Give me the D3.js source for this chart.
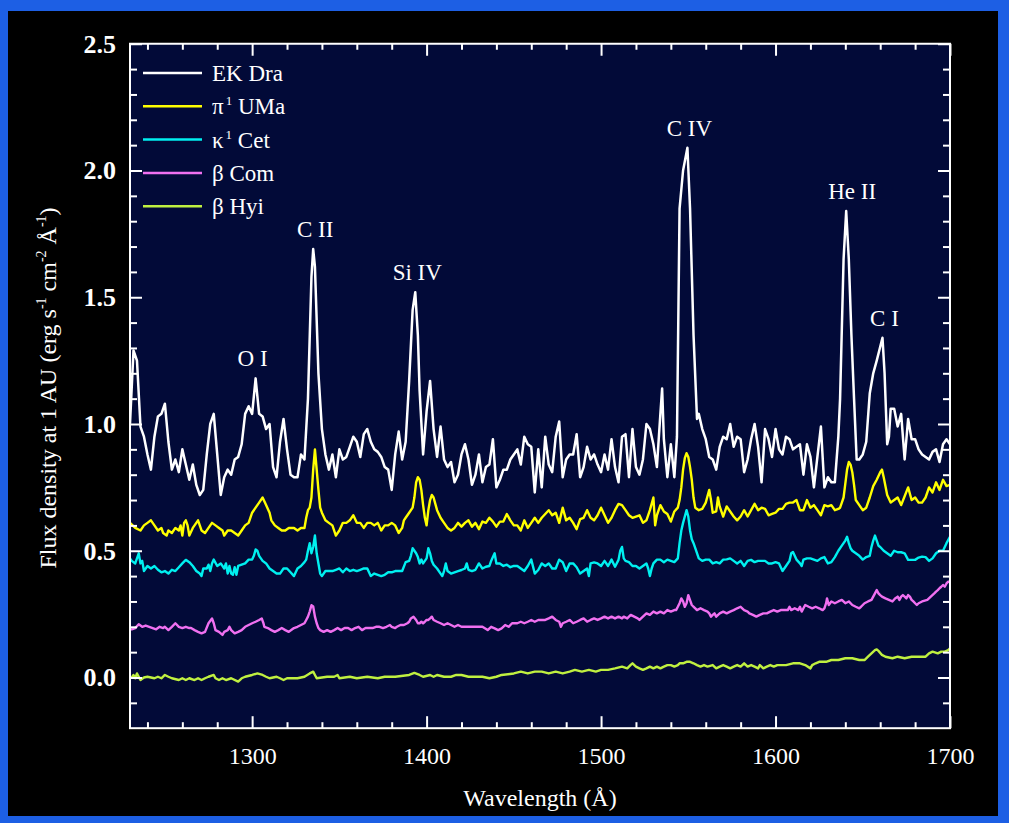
<!DOCTYPE html>
<html><head><meta charset="utf-8">
<script src="https://cdn.jsdelivr.net/npm/d3@7"></script>
<style>html,body{margin:0;padding:0;background:#000;overflow:hidden}</style>
</head><body>
<svg id="chart" width="1009" height="823"></svg>
<script>
// ---- data: [wavelength (Å), flux] ----
const ekDra = [[1230,1.00],[1232,1.29],[1234,1.25],[1236,0.99],[1238,0.95],[1240,0.88],[1242,0.82],[1244,0.95],[1246,1.03],[1248,1.04],[1250,1.08],[1252,0.93],[1254,0.82],[1256,0.86],[1258,0.81],[1260,0.90],[1262,0.84],[1264,0.78],[1266,0.84],[1268,0.76],[1270,0.72],[1272,0.74],[1274,0.88],[1276,1.00],[1278,1.04],[1280,0.88],[1282,0.72],[1284,0.79],[1286,0.82],[1288,0.80],[1290,0.86],[1292,0.87],[1294,0.92],[1296,1.04],[1298,1.07],[1300,1.04],[1302,1.18],[1304,1.04],[1306,1.03],[1308,0.98],[1310,1.00],[1312,0.83],[1314,0.79],[1316,0.93],[1318,1.02],[1320,0.90],[1322,0.80],[1324,0.79],[1326,0.79],[1328,0.88],[1330,0.86],[1332,1.10],[1334,1.58],[1335,1.69],[1336,1.62],[1338,1.20],[1340,0.98],[1342,0.88],[1344,0.82],[1346,0.88],[1348,0.79],[1350,0.90],[1352,0.86],[1354,0.87],[1356,0.91],[1358,0.95],[1360,0.93],[1362,0.87],[1364,0.96],[1366,0.98],[1368,0.93],[1370,0.90],[1372,0.89],[1374,0.87],[1376,0.83],[1378,0.82],[1380,0.74],[1382,0.88],[1384,0.97],[1386,0.86],[1388,0.93],[1390,1.17],[1392,1.45],[1393.5,1.52],[1395,1.35],[1396,1.13],[1398,0.88],[1400,1.05],[1402,1.17],[1404,0.98],[1406,0.87],[1408,0.99],[1410,0.86],[1412,0.83],[1414,0.85],[1416,0.77],[1418,0.80],[1420,0.88],[1422,0.92],[1424,0.86],[1426,0.76],[1428,0.80],[1430,0.88],[1432,0.77],[1434,0.83],[1436,0.84],[1438,0.94],[1440,0.75],[1442,0.78],[1444,0.82],[1446,0.82],[1448,0.86],[1450,0.88],[1452,0.90],[1454,0.84],[1456,0.95],[1458,0.92],[1460,0.91],[1462,0.73],[1464,0.90],[1466,0.75],[1468,0.95],[1470,0.84],[1472,0.81],[1474,0.95],[1476,1.01],[1478,0.79],[1480,0.86],[1482,0.88],[1484,0.88],[1486,0.96],[1488,0.79],[1490,0.83],[1492,0.91],[1494,0.86],[1496,0.88],[1498,0.84],[1500,0.81],[1502,0.88],[1504,0.82],[1506,0.94],[1508,0.83],[1510,0.77],[1512,0.95],[1514,0.96],[1516,0.79],[1518,0.98],[1520,0.83],[1522,0.80],[1524,0.86],[1526,1.00],[1528,0.98],[1530,0.92],[1532,0.83],[1534,1.04],[1535,1.14],[1536,0.94],[1538,0.79],[1540,0.92],[1542,0.79],[1543.5,0.95],[1545,1.85],[1547,2.00],[1549.5,2.09],[1551,1.85],[1553,1.35],[1555,1.02],[1556,1.04],[1558,0.98],[1560,0.94],[1562,0.87],[1564,0.86],[1566,0.82],[1568,0.91],[1570,0.95],[1572,0.94],[1574,1.00],[1576,0.91],[1578,0.95],[1580,0.94],[1582,0.81],[1584,0.86],[1586,0.94],[1588,1.00],[1590,0.91],[1592,0.77],[1594,0.98],[1596,0.94],[1598,0.87],[1600,0.98],[1602,0.90],[1604,0.88],[1606,0.95],[1608,0.94],[1610,0.90],[1612,0.91],[1614,0.92],[1616,0.80],[1618,0.92],[1620,0.87],[1622,0.75],[1624,0.87],[1626,0.99],[1628,0.75],[1630,0.79],[1632,0.77],[1634,0.77],[1636,0.95],[1637,1.10],[1639,1.65],[1640.5,1.84],[1642,1.65],[1643.5,1.35],[1645,1.10],[1646.5,0.86],[1648,0.86],[1650,0.88],[1652,0.93],[1654,1.12],[1656,1.20],[1658,1.25],[1661.3,1.34],[1662.5,1.20],[1664,0.92],[1665,0.95],[1666,1.06],[1668,1.06],[1670,0.99],[1672,1.04],[1674,0.86],[1676,1.02],[1678,0.94],[1680,0.94],[1682,0.90],[1684,0.88],[1686,0.87],[1688,0.86],[1690,0.89],[1692,0.90],[1694,0.85],[1696,0.92],[1698,0.94],[1700,0.92]];

const piUMa = [[1230,0.61],[1233,0.59],[1236,0.58],[1238,0.60],[1240,0.61],[1242,0.62],[1244,0.60],[1246,0.58],[1248,0.59],[1249,0.57],[1251,0.56],[1252,0.58],[1254,0.57],[1256,0.59],[1258,0.58],[1259,0.60],[1260,0.56],[1261,0.61],[1262,0.62],[1263,0.60],[1264,0.56],[1266,0.59],[1268,0.61],[1269,0.62],[1270,0.60],[1271,0.58],[1273,0.57],[1275,0.59],[1277,0.61],[1279,0.60],[1281,0.59],[1283,0.58],[1284,0.56],[1286,0.58],[1288,0.58],[1290,0.57],[1292,0.56],[1294,0.58],[1296,0.60],[1298,0.61],[1300,0.65],[1302,0.67],[1304,0.69],[1306,0.71],[1308,0.68],[1310,0.65],[1311,0.62],[1313,0.60],[1315,0.59],[1317,0.58],[1319,0.58],[1321,0.59],[1324,0.59],[1326,0.58],[1328,0.59],[1330,0.59],[1331,0.63],[1332,0.66],[1333,0.67],[1334,0.71],[1335,0.82],[1336,0.90],[1337,0.82],[1338,0.74],[1339,0.67],[1340,0.65],[1342,0.62],[1344,0.61],[1346,0.60],[1348,0.56],[1350,0.58],[1352,0.61],[1354,0.61],[1356,0.62],[1358,0.64],[1360,0.61],[1362,0.61],[1364,0.59],[1366,0.61],[1368,0.61],[1370,0.60],[1372,0.61],[1374,0.58],[1376,0.60],[1378,0.60],[1380,0.61],[1382,0.60],[1384,0.57],[1386,0.59],[1387,0.62],[1388,0.63],[1390,0.65],[1392,0.67],[1393,0.71],[1394,0.77],[1395,0.79],[1396,0.78],[1397,0.74],[1398,0.68],[1399,0.63],[1400,0.60],[1401,0.66],[1402,0.70],[1403,0.72],[1404,0.71],[1406,0.66],[1408,0.63],[1410,0.61],[1412,0.59],[1414,0.58],[1416,0.59],[1418,0.61],[1420,0.595],[1422,0.61],[1424,0.62],[1426,0.595],[1428,0.61],[1430,0.585],[1432,0.615],[1434,0.61],[1436,0.63],[1438,0.615],[1440,0.595],[1442,0.615],[1444,0.615],[1446,0.645],[1448,0.62],[1450,0.60],[1452,0.60],[1454,0.58],[1456,0.62],[1458,0.59],[1460,0.61],[1462,0.63],[1464,0.61],[1466,0.63],[1468,0.645],[1470,0.66],[1472,0.64],[1474,0.65],[1476,0.61],[1478,0.67],[1480,0.62],[1482,0.63],[1484,0.61],[1486,0.585],[1488,0.625],[1490,0.63],[1492,0.66],[1494,0.63],[1496,0.62],[1498,0.64],[1500,0.67],[1502,0.64],[1504,0.61],[1506,0.63],[1508,0.66],[1510,0.685],[1512,0.68],[1514,0.66],[1516,0.64],[1518,0.63],[1520,0.635],[1522,0.64],[1524,0.61],[1526,0.62],[1528,0.66],[1530,0.71],[1531,0.60],[1532,0.64],[1534,0.68],[1536,0.655],[1538,0.645],[1540,0.615],[1542,0.655],[1544,0.67],[1545,0.70],[1546,0.75],[1547,0.82],[1548,0.865],[1549,0.885],[1550,0.87],[1551,0.83],[1552,0.78],[1553,0.71],[1554,0.67],[1556,0.66],[1558,0.665],[1560,0.69],[1562,0.74],[1563,0.70],[1564,0.65],[1566,0.655],[1567,0.71],[1568,0.675],[1570,0.635],[1572,0.675],[1574,0.655],[1576,0.635],[1578,0.62],[1580,0.635],[1582,0.66],[1584,0.635],[1586,0.66],[1588,0.685],[1590,0.66],[1592,0.67],[1594,0.665],[1596,0.64],[1598,0.645],[1600,0.65],[1602,0.665],[1604,0.665],[1606,0.685],[1608,0.69],[1610,0.69],[1612,0.70],[1614,0.66],[1616,0.66],[1618,0.70],[1620,0.67],[1622,0.68],[1624,0.66],[1626,0.64],[1628,0.68],[1630,0.675],[1632,0.68],[1634,0.66],[1636,0.665],[1637,0.67],[1638,0.69],[1639,0.71],[1640,0.765],[1641,0.82],[1642,0.85],[1643,0.84],[1644,0.81],[1645,0.76],[1646,0.70],[1648,0.68],[1650,0.66],[1652,0.67],[1654,0.71],[1656,0.755],[1658,0.78],[1660,0.81],[1661,0.82],[1662,0.79],[1664,0.72],[1666,0.69],[1668,0.70],[1670,0.71],[1672,0.68],[1674,0.715],[1676,0.75],[1678,0.70],[1680,0.71],[1682,0.69],[1684,0.69],[1686,0.71],[1688,0.75],[1690,0.73],[1692,0.77],[1694,0.74],[1696,0.78],[1698,0.755],[1700,0.76]];

const kappaCet = [[1230,0.47],[1231,0.46],[1233,0.45],[1235,0.49],[1236,0.45],[1237,0.46],[1238,0.42],[1240,0.44],[1242,0.43],[1244,0.44],[1246,0.425],[1248,0.415],[1250,0.42],[1252,0.41],[1254,0.425],[1256,0.42],[1258,0.435],[1260,0.45],[1262,0.464],[1264,0.455],[1266,0.44],[1268,0.42],[1270,0.41],[1271,0.40],[1272,0.43],[1274,0.43],[1275,0.445],[1276,0.42],[1277,0.45],[1278,0.465],[1280,0.44],[1282,0.45],[1284,0.43],[1285,0.45],[1286,0.41],[1287,0.44],[1288,0.41],[1289,0.405],[1290,0.435],[1291,0.405],[1292,0.44],[1294,0.445],[1296,0.45],[1298,0.465],[1300,0.465],[1301,0.48],[1302,0.505],[1303,0.50],[1304,0.48],[1306,0.46],[1308,0.45],[1310,0.43],[1312,0.42],[1314,0.41],[1316,0.41],[1318,0.43],[1320,0.43],[1322,0.415],[1324,0.40],[1326,0.43],[1328,0.44],[1330,0.455],[1331,0.465],[1332,0.50],[1333,0.53],[1334,0.49],[1335,0.515],[1336,0.56],[1337,0.49],[1338,0.45],[1339,0.41],[1340,0.40],[1342,0.42],[1344,0.42],[1346,0.42],[1348,0.425],[1350,0.43],[1352,0.415],[1354,0.43],[1356,0.42],[1358,0.425],[1360,0.42],[1362,0.425],[1364,0.43],[1366,0.43],[1368,0.40],[1370,0.41],[1372,0.405],[1374,0.40],[1376,0.405],[1378,0.415],[1380,0.415],[1382,0.42],[1384,0.42],[1386,0.42],[1388,0.455],[1390,0.46],[1391,0.48],[1392,0.51],[1393,0.50],[1394,0.49],[1395,0.475],[1396,0.45],[1397,0.465],[1398,0.45],[1400,0.47],[1401,0.51],[1402,0.49],[1403,0.46],[1404,0.445],[1406,0.43],[1408,0.41],[1409,0.40],[1410,0.42],[1411,0.45],[1412,0.42],[1414,0.41],[1416,0.415],[1418,0.42],[1420,0.424],[1422,0.43],[1423,0.45],[1424,0.425],[1426,0.42],[1428,0.425],[1430,0.45],[1432,0.43],[1434,0.437],[1436,0.44],[1437,0.46],[1438,0.475],[1439,0.49],[1440,0.45],[1442,0.45],[1444,0.44],[1446,0.445],[1448,0.435],[1450,0.44],[1452,0.44],[1454,0.43],[1456,0.42],[1458,0.44],[1460,0.465],[1462,0.41],[1464,0.424],[1466,0.45],[1468,0.44],[1470,0.45],[1472,0.43],[1474,0.43],[1476,0.465],[1478,0.455],[1480,0.42],[1482,0.45],[1484,0.45],[1486,0.435],[1488,0.41],[1490,0.42],[1492,0.43],[1493,0.40],[1494,0.45],[1496,0.454],[1498,0.45],[1500,0.44],[1502,0.46],[1504,0.44],[1506,0.465],[1508,0.437],[1510,0.464],[1511,0.50],[1512,0.515],[1513,0.47],[1514,0.46],[1516,0.455],[1518,0.44],[1520,0.44],[1522,0.43],[1524,0.44],[1526,0.45],[1527,0.43],[1528,0.40],[1529,0.43],[1530,0.45],[1532,0.465],[1534,0.465],[1536,0.455],[1538,0.465],[1540,0.46],[1542,0.455],[1544,0.47],[1545,0.53],[1546,0.58],[1547,0.61],[1548,0.635],[1549,0.66],[1550,0.635],[1551,0.58],[1552,0.545],[1553,0.53],[1554,0.51],[1556,0.47],[1558,0.46],[1560,0.465],[1562,0.465],[1564,0.45],[1566,0.455],[1568,0.45],[1570,0.465],[1572,0.466],[1574,0.47],[1576,0.46],[1578,0.45],[1580,0.46],[1582,0.44],[1584,0.46],[1586,0.464],[1588,0.455],[1590,0.46],[1592,0.46],[1594,0.46],[1596,0.45],[1598,0.45],[1600,0.455],[1602,0.45],[1604,0.42],[1606,0.44],[1608,0.46],[1609,0.49],[1610,0.495],[1612,0.465],[1614,0.45],[1615,0.44],[1616,0.465],[1618,0.47],[1620,0.47],[1622,0.465],[1624,0.46],[1626,0.47],[1628,0.475],[1630,0.45],[1632,0.455],[1634,0.475],[1636,0.50],[1638,0.52],[1639,0.53],[1640,0.54],[1641,0.555],[1642,0.53],[1643,0.51],[1644,0.50],[1646,0.49],[1648,0.48],[1650,0.465],[1652,0.475],[1654,0.48],[1655,0.515],[1656,0.54],[1657,0.56],[1658,0.54],[1659,0.52],[1660,0.515],[1662,0.50],[1664,0.49],[1666,0.48],[1668,0.50],[1670,0.494],[1672,0.494],[1674,0.49],[1676,0.464],[1678,0.464],[1680,0.464],[1682,0.473],[1684,0.477],[1686,0.475],[1688,0.46],[1690,0.47],[1692,0.49],[1694,0.50],[1696,0.50],[1698,0.53],[1700,0.555]];

const betaCom = [[1230,0.19],[1231,0.19],[1233,0.195],[1235,0.21],[1237,0.20],[1239,0.205],[1241,0.20],[1243,0.195],[1245,0.19],[1247,0.20],[1249,0.195],[1250,0.20],[1252,0.187],[1254,0.20],[1256,0.214],[1258,0.20],[1260,0.195],[1262,0.20],[1264,0.195],[1265,0.195],[1267,0.187],[1269,0.18],[1271,0.174],[1273,0.18],[1275,0.214],[1277,0.233],[1278,0.214],[1279,0.187],[1281,0.18],[1283,0.168],[1284,0.18],[1286,0.187],[1287,0.20],[1288,0.187],[1290,0.174],[1292,0.18],[1294,0.187],[1296,0.20],[1298,0.207],[1300,0.214],[1302,0.22],[1304,0.227],[1305.5,0.233],[1306.5,0.214],[1307,0.20],[1309,0.195],[1311,0.187],[1313,0.18],[1315,0.187],[1317,0.195],[1319,0.187],[1321,0.18],[1323,0.19],[1324,0.195],[1326,0.20],[1328,0.207],[1330,0.214],[1331,0.227],[1332,0.24],[1333,0.26],[1334,0.285],[1335,0.28],[1336,0.24],[1337,0.214],[1338,0.195],[1339,0.187],[1341,0.18],[1343,0.187],[1345,0.18],[1347,0.187],[1349,0.195],[1351,0.187],[1353,0.195],[1355,0.195],[1357,0.187],[1359,0.195],[1361,0.20],[1363,0.187],[1365,0.195],[1367,0.195],[1369,0.195],[1371,0.20],[1373,0.20],[1375,0.195],[1377,0.20],[1379,0.207],[1380,0.20],[1382,0.195],[1383,0.20],[1385,0.207],[1387,0.207],[1389,0.214],[1390,0.22],[1391,0.233],[1392.5,0.24],[1394,0.227],[1395,0.214],[1396,0.214],[1397,0.22],[1398,0.214],[1399,0.22],[1400,0.227],[1401,0.227],[1402,0.233],[1403,0.24],[1404,0.227],[1406,0.22],[1408,0.214],[1410,0.207],[1412,0.214],[1414,0.207],[1416,0.20],[1418,0.207],[1420,0.20],[1424,0.20],[1428,0.20],[1432,0.20],[1435,0.187],[1437,0.20],[1439,0.194],[1441,0.187],[1443,0.194],[1445,0.207],[1447,0.20],[1449,0.214],[1452,0.214],[1454,0.22],[1456,0.214],[1458,0.22],[1460,0.227],[1462,0.22],[1464,0.227],[1468,0.227],[1470,0.233],[1472,0.24],[1474,0.227],[1476,0.22],[1477,0.20],[1478,0.214],[1480,0.22],[1482,0.227],[1484,0.214],[1486,0.22],[1488,0.227],[1490,0.233],[1492,0.22],[1494,0.227],[1496,0.233],[1498,0.227],[1500,0.233],[1502,0.24],[1504,0.233],[1506,0.24],[1508,0.233],[1510,0.24],[1512,0.233],[1513,0.24],[1515,0.233],[1517,0.247],[1519,0.24],[1521,0.233],[1522,0.227],[1524,0.24],[1526,0.253],[1528,0.247],[1530,0.26],[1532,0.253],[1534,0.26],[1536,0.253],[1538,0.266],[1540,0.26],[1542,0.266],[1543,0.266],[1544,0.279],[1545,0.293],[1546,0.312],[1547,0.30],[1548,0.279],[1549,0.293],[1550,0.325],[1551,0.305],[1552,0.286],[1553,0.279],[1554,0.273],[1555,0.266],[1557,0.273],[1559,0.266],[1561,0.26],[1562,0.253],[1563,0.24],[1564,0.247],[1565,0.253],[1566,0.24],[1568,0.253],[1570,0.26],[1572,0.253],[1574,0.26],[1576,0.266],[1578,0.273],[1580,0.279],[1582,0.266],[1584,0.26],[1585,0.253],[1587,0.247],[1589,0.24],[1591,0.247],[1593,0.253],[1595,0.253],[1597,0.26],[1599,0.266],[1601,0.26],[1603,0.266],[1605,0.266],[1607,0.266],[1608,0.279],[1609,0.266],[1611,0.273],[1613,0.266],[1614,0.279],[1615,0.26],[1616,0.273],[1617,0.286],[1619,0.279],[1621,0.273],[1623,0.279],[1625,0.273],[1627,0.266],[1628,0.273],[1629,0.293],[1629.5,0.312],[1630.5,0.286],[1632,0.30],[1634,0.293],[1636,0.30],[1638,0.306],[1640,0.293],[1642,0.30],[1644,0.286],[1646,0.279],[1648,0.273],[1649,0.279],[1651,0.293],[1653,0.30],[1655,0.306],[1656,0.319],[1657,0.332],[1658,0.345],[1659,0.332],[1660,0.325],[1661,0.319],[1663,0.312],[1665,0.306],[1667,0.30],[1668.5,0.312],[1670,0.319],[1671,0.306],[1672,0.319],[1673,0.325],[1674,0.319],[1675,0.312],[1676,0.325],[1677,0.319],[1678,0.306],[1679,0.30],[1680,0.293],[1681,0.286],[1682,0.293],[1684,0.30],[1687,0.306],[1689,0.319],[1691,0.332],[1692,0.339],[1693,0.345],[1694,0.352],[1695,0.358],[1696,0.365],[1697,0.358],[1698,0.371],[1699,0.378],[1700,0.378]];

const betaHyi = [[1230,0.0],[1231,0.0],[1232,0.01],[1233,-0.003],[1234,0.016],[1235,0.003],[1236,-0.01],[1238,0.0],[1240,0.003],[1244,-0.003],[1246,0.003],[1248,-0.003],[1250,0.01],[1252,0.003],[1254,-0.003],[1258,-0.01],[1260,-0.003],[1262,-0.01],[1264,-0.003],[1267,-0.01],[1269,-0.003],[1271,-0.01],[1273,-0.003],[1275,0.003],[1278,0.01],[1279,-0.003],[1281,-0.01],[1283,-0.003],[1285,-0.01],[1288,-0.003],[1292,-0.016],[1294,-0.003],[1296,0.003],[1300,0.01],[1303,0.016],[1306,0.01],[1308,0.003],[1310,-0.003],[1314,0.003],[1316,-0.003],[1318,-0.01],[1320,-0.003],[1322,-0.003],[1326,-0.003],[1330,0.003],[1333,0.016],[1335,0.023],[1336,0.01],[1337,-0.003],[1343,0.003],[1347,0.003],[1349,0.01],[1350,-0.003],[1356,0.003],[1360,-0.003],[1366,0.003],[1372,-0.003],[1376,0.003],[1382,0.003],[1390,0.01],[1393,0.018],[1396,0.01],[1398,0.003],[1402,0.01],[1404,0.003],[1406,0.01],[1410,0.003],[1414,0.003],[1417,0.01],[1420,0.01],[1424,0.003],[1432,0.003],[1436,-0.003],[1440,0.003],[1443,0.01],[1450,0.016],[1454,0.023],[1458,0.016],[1462,0.023],[1466,0.023],[1470,0.016],[1474,0.023],[1478,0.016],[1482,0.023],[1485,0.03],[1489,0.023],[1493,0.03],[1497,0.023],[1500,0.03],[1504,0.03],[1508,0.036],[1512,0.043],[1515,0.036],[1517,0.05],[1518,0.056],[1520,0.043],[1522,0.036],[1524,0.03],[1526,0.036],[1528,0.043],[1530,0.036],[1532,0.043],[1534,0.036],[1536,0.043],[1538,0.049],[1540,0.049],[1542,0.043],[1544,0.049],[1545,0.056],[1547,0.056],[1549,0.062],[1551,0.062],[1553,0.056],[1555,0.049],[1557,0.043],[1559,0.049],[1561,0.043],[1564,0.049],[1566,0.036],[1568,0.043],[1570,0.049],[1572,0.043],[1574,0.036],[1576,0.043],[1578,0.049],[1580,0.043],[1582,0.056],[1584,0.043],[1586,0.049],[1588,0.043],[1590,0.036],[1591,0.049],[1593,0.036],[1595,0.043],[1597,0.049],[1599,0.043],[1601,0.049],[1604,0.049],[1606,0.049],[1610,0.056],[1614,0.056],[1617,0.049],[1620,0.036],[1621,0.049],[1623,0.056],[1625,0.062],[1629,0.062],[1632,0.069],[1636,0.069],[1640,0.076],[1644,0.076],[1648,0.069],[1651,0.069],[1653,0.082],[1655,0.095],[1657,0.108],[1658,0.111],[1659,0.105],[1661,0.089],[1663,0.082],[1667,0.076],[1670,0.082],[1674,0.076],[1678,0.082],[1682,0.082],[1686,0.082],[1688,0.095],[1690,0.102],[1693,0.095],[1695,0.102],[1697,0.102],[1699,0.108],[1700,0.115]];

const seriesNames  = ["EK Dra", "π¹ UMa", "κ¹ Cet", "β Com", "β Hyi"];
const seriesColors = ["#ffffff", "#ffff00", "#00f0f0", "#f070f0", "#c0f040"];
const seriesData   = [ekDra, piUMa, kappaCet, betaCom, betaHyi];

const lineLabels = ["O I", "C II", "Si IV", "C IV", "He II", "C I"];
const lineWaves  = [1302, 1335, 1393.5, 1549.5, 1640.5, 1661.3];
const lineFlux   = [1.18, 1.69, 1.52, 2.09, 1.84, 1.34];

const xMajor = [1300, 1400, 1500, 1600, 1700];
const yMajor = [0.0, 0.5, 1.0, 1.5, 2.0, 2.5];

// ---- drawing ----
const W = 1009, H = 823;
const svg = d3.select("#chart");
const FONT = "'Liberation Serif','Times New Roman',serif";

svg.append("rect").attr("width", W).attr("height", H).attr("fill", "#1d5fe4");
svg.append("rect").attr("x", 8).attr("y", 11).attr("width", 990).attr("height", 805).attr("fill", "#000");

const x = d3.scaleLinear().domain([1230, 1700]).range([130, 950]);
const y = d3.scaleLinear().domain([-0.2, 2.5]).range([728.2, 43.75]);
const [x0, x1] = x.range(), [y0, y1] = y.range();

svg.append("rect").attr("x", x0).attr("y", y1).attr("width", x1 - x0).attr("height", y0 - y1)
  .attr("fill", "#020a38");

svg.append("clipPath").attr("id", "clip").append("rect")
  .attr("x", x0).attr("y", y1).attr("width", x1 - x0).attr("height", y0 - y1);

const line = d3.line().x(d => x(d[0])).y(d => y(d[1]));
const plot = svg.append("g").attr("clip-path", "url(#clip)");
for (let i = seriesData.length - 1; i >= 0; i--) {
  plot.append("path").datum(seriesData[i]).attr("d", line)
    .attr("fill", "none").attr("stroke", seriesColors[i])
    .attr("stroke-width", i === 0 ? 2.5 : 2.4).attr("stroke-linejoin", "round");
}

// axes
const xMinor = d3.range(1240, 1701, 20).filter(v => !xMajor.includes(v));
const yMinor = d3.range(-0.1, 2.5, 0.1).map(v => +v.toFixed(1)).filter(v => !yMajor.some(m => Math.abs(m - v) < 1e-6));

function styleAxis(g) {
  g.select(".domain").remove();
  g.selectAll(".tick line").attr("stroke", "#fff").attr("stroke-width", 2);
  g.selectAll(".tick text").attr("fill", "#fff").attr("font-family", FONT);
}
svg.append("g").attr("transform", `translate(0,${y0})`)
  .call(d3.axisBottom(x).tickValues(xMajor).tickSize(-12).tickPadding(19).tickFormat(d3.format("d")))
  .call(styleAxis).call(g => g.selectAll(".tick text").attr("font-size", 24));
svg.append("g").attr("transform", `translate(0,${y0})`)
  .call(d3.axisBottom(x).tickValues(xMinor).tickSize(-6).tickFormat(""))
  .call(styleAxis);
svg.append("g").attr("transform", `translate(0,${y1})`)
  .call(d3.axisTop(x).tickValues(xMajor).tickSize(-12).tickFormat(""))
  .call(styleAxis);
svg.append("g").attr("transform", `translate(0,${y1})`)
  .call(d3.axisTop(x).tickValues(xMinor).tickSize(-6).tickFormat(""))
  .call(styleAxis);
svg.append("g").attr("transform", `translate(${x0},0)`)
  .call(d3.axisLeft(y).tickValues(yMajor).tickSize(-12).tickPadding(14).tickFormat(d3.format(".1f")))
  .call(styleAxis).call(g => g.selectAll(".tick text").attr("font-size", 26).attr("font-weight", "bold"));
svg.append("g").attr("transform", `translate(${x0},0)`)
  .call(d3.axisLeft(y).tickValues(yMinor).tickSize(-7).tickFormat(""))
  .call(styleAxis);
svg.append("g").attr("transform", `translate(${x1},0)`)
  .call(d3.axisRight(y).tickValues(yMajor).tickSize(-12).tickFormat(""))
  .call(styleAxis);
svg.append("g").attr("transform", `translate(${x1},0)`)
  .call(d3.axisRight(y).tickValues(yMinor).tickSize(-7).tickFormat(""))
  .call(styleAxis);

svg.append("rect").attr("x", x0).attr("y", y1).attr("width", x1 - x0).attr("height", y0 - y1)
  .attr("fill", "none").attr("stroke", "#fff").attr("stroke-width", 2);

// emission line labels
svg.append("g").selectAll("text").data(lineLabels).join("text")
  .attr("x", (d, i) => x(lineWaves[i]) + (i === 0 ? -3 : i === 4 ? 6 : 2))
  .attr("y", (d, i) => y(lineFlux[i]) - 12)
  .attr("text-anchor", "middle").attr("fill", "#fff")
  .attr("font-family", FONT).attr("font-size", 23).text(d => d);

// legend
const leg = svg.append("g");
seriesNames.forEach((name, i) => {
  const ly = 73 + i * 33.3;
  leg.append("line").attr("x1", 143).attr("x2", 202).attr("y1", ly).attr("y2", ly)
    .attr("stroke", seriesColors[i]).attr("stroke-width", 2.5);
  const t = leg.append("text").attr("x", 212).attr("y", ly + 8).attr("fill", "#fff")
    .attr("font-family", FONT).attr("font-size", 23);
  if (name.includes("¹")) {
    const [a, b] = name.split("¹");
    t.append("tspan").text(a);
    t.append("tspan").attr("dy", -9).attr("font-size", 13).attr("dx", 2).text("1");
    t.append("tspan").attr("dy", 9).text(b);
  } else {
    t.text(name);
  }
});

// axis titles
svg.append("text").attr("x", 540).attr("y", 806).attr("text-anchor", "middle")
  .attr("fill", "#fff").attr("font-family", FONT).attr("font-size", 24).text("Wavelength (Å)");

const yt = svg.append("text").attr("transform", "translate(56,388) rotate(-90)")
  .attr("text-anchor", "middle").attr("fill", "#fff").attr("font-family", FONT).attr("font-size", 24);
const parts = [["Flux density at 1 AU (erg s", null], ["-1", "sup"], [" cm", null], ["-2", "sup"], [" Å", null], ["-1", "sup"], [")", null]];
parts.forEach(([s, k], idx) => {
  if (k === "sup") {
    yt.append("tspan").attr("dy", -10).attr("font-size", 14).text(s);
  } else {
    const ts = yt.append("tspan").text(s);
    if (idx > 0) ts.attr("dy", 10);
  }
});
</script>
</body></html>
